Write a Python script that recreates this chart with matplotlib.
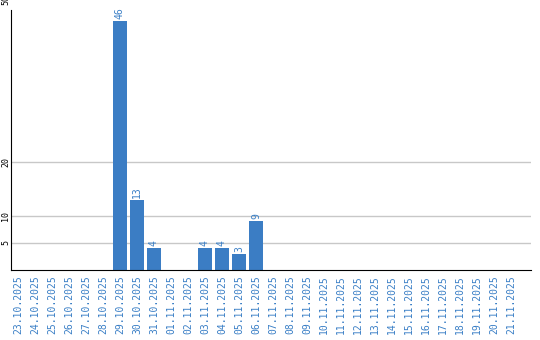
import matplotlib
matplotlib.use('Agg')
import matplotlib.pyplot as plt
import matplotlib.transforms as mtransforms

dates = ['23.10.2025', '24.10.2025', '25.10.2025', '26.10.2025', '27.10.2025',
         '28.10.2025', '29.10.2025', '30.10.2025', '31.10.2025', '01.11.2025',
         '02.11.2025', '03.11.2025', '04.11.2025', '05.11.2025', '06.11.2025',
         '07.11.2025', '08.11.2025', '09.11.2025', '10.11.2025', '11.11.2025',
         '12.11.2025', '13.11.2025', '14.11.2025', '15.11.2025', '16.11.2025',
         '17.11.2025', '18.11.2025', '19.11.2025', '20.11.2025', '21.11.2025']
counts = [0, 0, 0, 0, 0, 0, 46, 13, 4, 0, 0, 4, 4, 3, 9,
          0, 0, 0, 0, 0, 0, 0, 0, 0, 0, 0, 0, 0, 0, 0]
grid_ticks = [5, 10, 20]
label_ticks = [5, 10, 20, 50]

bar_color = '#3b7dc4'
text_color = '#3a7fc6'

fig = plt.figure(figsize=(5.4, 3.4), dpi=100)
ax = fig.add_axes([11 / 540, 70 / 340, 520 / 540, 260 / 340])

x = list(range(len(dates)))
ax.bar(x, counts, width=0.82, color=bar_color, zorder=2)

for i, v in enumerate(counts):
    if v > 0:
        ax.text(i, v + 0.4, str(v), rotation=90, ha='center', va='bottom',
                color=text_color, fontsize=7, family='DejaVu Sans Mono')

ax.set_xlim(-0.41, 30.18)
ax.set_ylim(0, 48.1)

ax.set_xticks(x)
ax.set_xticklabels(dates, rotation=90, color=text_color, fontsize=7,
                   family='DejaVu Sans Mono')
ax.set_yticks(grid_ticks)
ax.set_yticklabels([])
ax.tick_params(axis='both', length=0)
ax.tick_params(axis='x', pad=4)

# y labels placed by hand so they sit in the narrow left margin
trans = mtransforms.blended_transform_factory(fig.transFigure, ax.transData)
for t in label_ticks:
    ax.text(5.5 / 540, t, str(t), rotation=90, ha='center', va='center',
            fontsize=6, family='DejaVu Sans Mono', transform=trans,
            clip_on=False)

ax.grid(axis='y', color='#c8c8c8', linewidth=1, zorder=0)
for s in ['top', 'right']:
    ax.spines[s].set_visible(False)
ax.spines['left'].set_color('black')
ax.spines['bottom'].set_color('black')

fig.savefig('out.png', dpi=100)
